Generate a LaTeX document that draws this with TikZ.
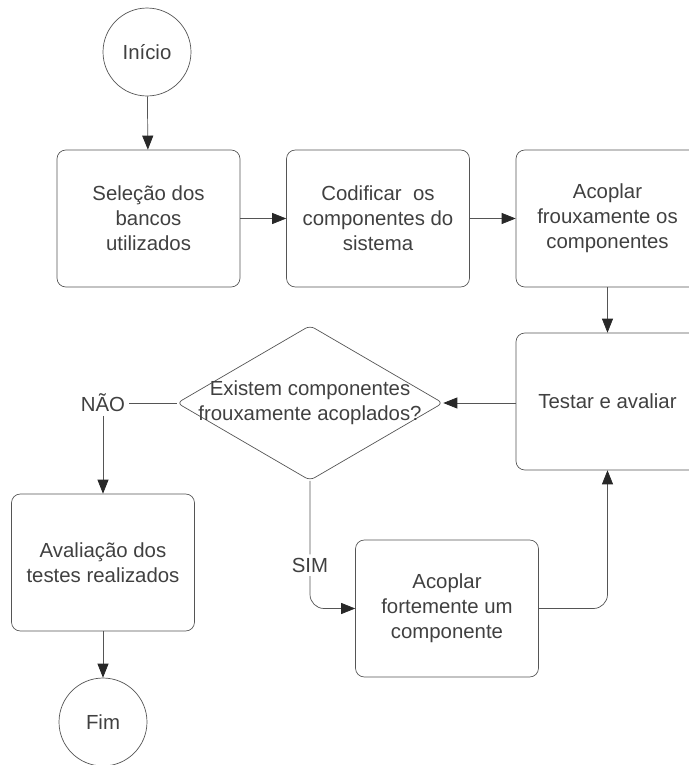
\documentclass[tikz,border=0pt]{standalone}
\usepackage{fontspec}
\setmainfont{Liberation Sans}
\usetikzlibrary{shapes.geometric}
\usetikzlibrary{arrows.meta}
\definecolor{linegray}{RGB}{85,85,85}
\definecolor{tipgray}{RGB}{40,40,40}
\definecolor{textgray}{RGB}{64,64,64}
\tikzset{
  procbox/.style={draw=linegray, rounded corners=5pt, minimum width=3.66cm, minimum height=2.74cm, align=center, text=textgray},
  termcirc/.style={draw=linegray, circle, minimum size=1.76cm, text=textgray},
  decis/.style={draw=linegray, diamond, aspect=1.72, inner sep=0pt, minimum width=5.32cm, minimum height=3.1cm, rounded corners=3pt},
  lbl/.style={text=textgray, fill=white, inner sep=2pt},
  flow/.style={draw=linegray, -{Triangle[length=0.28cm, width=0.22cm, color=tipgray]}}
}

\begin{document}
\begin{tikzpicture}[x=0.02cm, y=-0.02cm, font=\fontsize{11.6}{14.2}\selectfont]
\useasboundingbox (0,0) rectangle (689,765);
\node[termcirc] (inicio) at (147,52) {Início};
\node[procbox] (selecao) at (148.5,218.5) {Seleção dos\\bancos\\utilizados};
\node[procbox] (codificar) at (378,218.5) {Codificar~ os\\componentes do\\sistema};
\node[procbox] (acoplarfr) at (607.5,218.5) {Acoplar\\frouxamente os\\componentes};
\node[procbox] (testar) at (607.5,401.5) {Testar e avaliar};
\node[decis, label={[align=center, text=textgray]center:Existem componentes\\frouxamente acoplados?}] (dec) at (310,403) {};
\node[lbl] (nao) at (103,403) {NÃO};
\node[procbox] (avaliacao) at (103,562.5) {Avaliação dos\\testes realizados};
\node[termcirc] (fim) at (103,722) {Fim};
\node[procbox] (acoplarfo) at (447,608.5) {Acoplar\\fortemente um\\componente};

\draw[flow] (inicio) -- (selecao);
\draw[flow] (selecao) -- (codificar);
\draw[flow] (codificar) -- (acoplarfr);
\draw[flow] (acoplarfr) -- (testar);
\draw[flow] (testar.west |- dec.east) -- (dec.east);
\draw[linegray] (dec.west) -- (nao.east);
\draw[flow] (nao.south) -- (avaliacao.north);
\draw[flow] (avaliacao) -- (fim);
\draw[flow, rounded corners=8pt] (dec.south) -- node[lbl, pos=0.66] {SIM} (dec.south |- acoplarfo.west) -- (acoplarfo.west);
\draw[flow, rounded corners=8pt] (acoplarfo.east) -- (acoplarfo.east -| testar.south) -- (testar.south);
\end{tikzpicture}
\end{document}
